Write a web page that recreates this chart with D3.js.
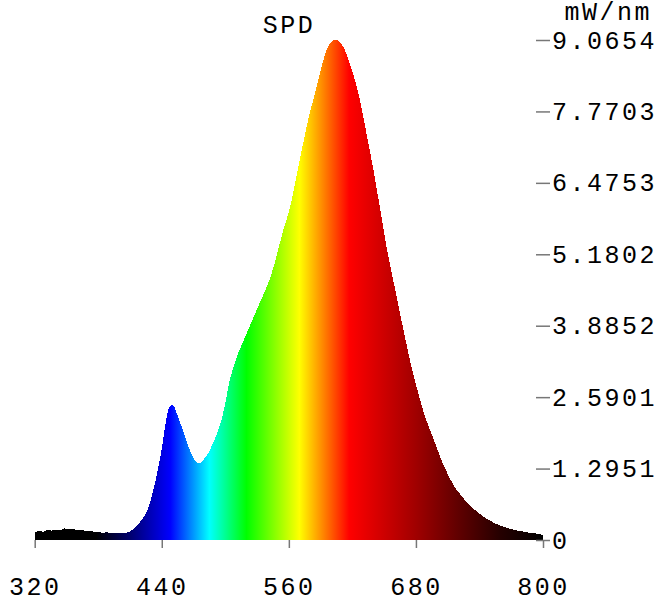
<!DOCTYPE html>
<meta charset="utf-8">
<style>
	body { margin: 0; background: #fff; }
	text {
		font-family: "Liberation Mono", monospace;
		font-size: 25px;
		letter-spacing: 2.5px;
		fill: #000;
	}
	.axis line { stroke: #777; stroke-width: 1.5; }
	.axis path { display: none; }
	.spd { shape-rendering: crispEdges; }
</style>
<body>
<script src="https://d3js.org/d3.v7.min.js"></script>
<script>

	// wavelength (nm) and spectral power (mW/nm)
	var wavelengths = [320, 324, 328, 332, 336, 340, 344, 348, 352, 356, 360, 364, 368, 372, 376, 380,
		384, 388, 392, 396, 400, 404, 408, 412, 416, 420, 424, 428, 432, 436, 440, 443, 446, 449, 451,
		454, 457, 460, 463, 466, 469, 472, 475, 478, 481, 484, 488, 492, 496, 500, 504, 508, 512, 516,
		520, 524, 528, 532, 536, 540, 544, 548, 552, 556, 560, 564, 568, 572, 576, 580, 584, 588, 592,
		596, 600, 604, 608, 612, 616, 620, 624, 628, 632, 636, 640, 644, 648, 652, 656, 660, 664, 668,
		672, 676, 680, 684, 688, 692, 696, 700, 704, 708, 712, 716, 720, 724, 728, 732, 736, 740, 744,
		748, 752, 756, 760, 764, 768, 772, 776, 780, 784, 788, 792, 796, 800];

	var power = [0.14, 0.16, 0.15, 0.18, 0.17, 0.19, 0.18, 0.21, 0.19, 0.20, 0.18, 0.19, 0.16, 0.17, 0.15, 0.15,
		0.13, 0.14, 0.12, 0.12, 0.12, 0.12, 0.14, 0.18, 0.25, 0.34, 0.45, 0.62, 0.90, 1.25, 1.65, 2.05, 2.35, 2.45, 2.44,
		2.30, 2.15, 1.98, 1.81, 1.65, 1.52, 1.43, 1.39, 1.42, 1.50, 1.58, 1.74, 1.92, 2.15, 2.48, 2.88, 3.15, 3.38, 3.56,
		3.74, 3.92, 4.10, 4.28, 4.45, 4.63, 4.85, 5.12, 5.42, 5.70, 5.95, 6.28, 6.68, 7.05, 7.42, 7.76, 8.04, 8.36, 8.66,
		8.90, 9.03, 9.07, 9.03, 8.92, 8.72, 8.50, 8.22, 7.90, 7.50, 7.10, 6.70, 6.25, 5.80, 5.34, 4.95, 4.58, 4.20, 3.83,
		3.47, 3.12, 2.82, 2.54, 2.27, 2.06, 1.86, 1.66, 1.45, 1.28, 1.12, 0.98, 0.87, 0.78, 0.68, 0.60, 0.54, 0.48, 0.42,
		0.37, 0.33, 0.29, 0.26, 0.23, 0.21, 0.19, 0.17, 0.16, 0.14, 0.13, 0.12, 0.11, 0.09];

	var xTicks = [320, 440, 560, 680, 800];
	var yTickLabels = ["0", "1.2951", "2.5901", "3.8852", "5.1802", "6.4753", "7.7703", "9.0654"];

	// colour of the fill at each wavelength
	var specNm = [320, 378, 410, 448, 485, 520, 570, 617, 680, 720, 760, 800];
	var specColor = ["#000000", "#000000", "#00006e", "#0000ff", "#00ffff", "#00ff00", "#ffff00",
		"#ff0000", "#a00000", "#600000", "#250000", "#000000"];

	var width = 659,
		height = 605;

	var x = d3.scaleLinear().domain([320, 800]).range([34.7, 543]);
	var y = d3.scaleLinear().domain([0, 9.0654]).range([540, 40]);

	var svg = d3.select("body").append("svg")
		.attr("width", width)
		.attr("height", height);

	var grad = svg.append("defs").append("linearGradient")
		.attr("id", "spectrum")
		.attr("gradientUnits", "userSpaceOnUse")
		.attr("x1", x(320)).attr("x2", x(800))
		.attr("y1", 0).attr("y2", 0);

	grad.selectAll("stop")
		.data(specNm)
		.enter().append("stop")
		.attr("offset", function(d) { return (d - 320) / 480; })
		.attr("stop-color", function(d, i) { return specColor[i]; });

	var data = wavelengths.map(function(w, i) { return {w: w, v: power[i]}; });

	var area = d3.area()
		.x(function(d) { return x(d.w); })
		.y0(y(0))
		.y1(function(d) { return y(d.v); })
		.curve(d3.curveMonotoneX);

	svg.append("path")
		.datum(data)
		.attr("class", "spd")
		.attr("d", area)
		.style("fill", "url(#spectrum)");

	var xAxis = d3.axisBottom(x)
		.tickValues(xTicks)
		.tickSize(8)
		.tickPadding(29)
		.tickFormat(d3.format("d"));

	svg.append("g")
		.attr("class", "axis")
		.attr("transform", "translate(0," + y(0) + ")")
		.call(xAxis);

	var yAxis = d3.axisRight(y)
		.tickValues(yTickLabels.map(Number))
		.tickSize(14)
		.tickPadding(2)
		.tickFormat(function(d, i) { return yTickLabels[i]; });

	svg.append("g")
		.attr("class", "axis")
		.attr("transform", "translate(536,0)")
		.call(yAxis);

	svg.selectAll(".axis")
		.attr("font-size", null)
		.attr("font-family", null)
		.selectAll("text").attr("fill", null);

	svg.append("text")
		.attr("x", 289)
		.attr("y", 33)
		.attr("text-anchor", "middle")
		.text("SPD");

	svg.append("text")
		.attr("x", 652)
		.attr("y", 20)
		.attr("text-anchor", "end")
		.text("mW/nm");
</script>
